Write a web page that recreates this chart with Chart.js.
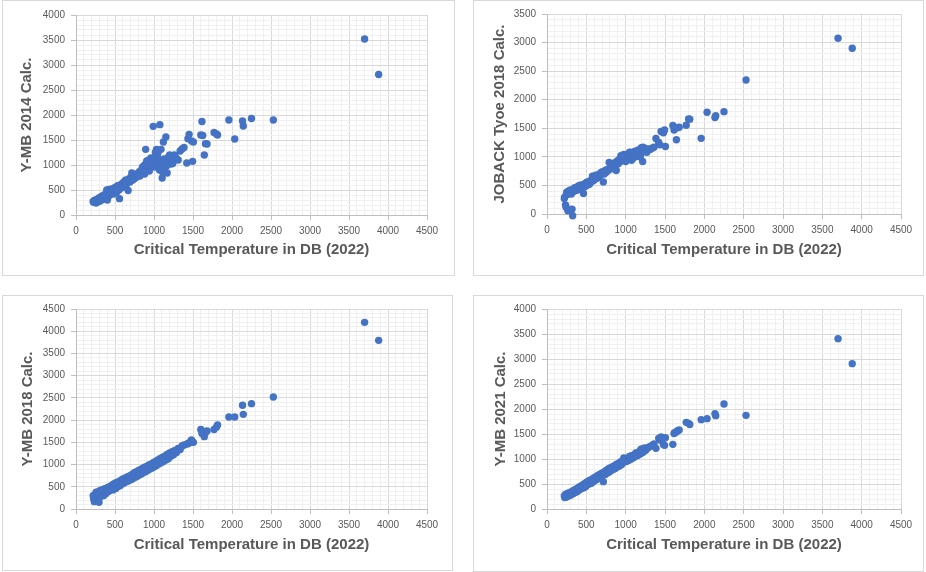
<!DOCTYPE html>
<html>
<head>
<meta charset="utf-8">
<script src="https://cdn.jsdelivr.net/npm/chart.js@4.4.1/dist/chart.umd.min.js"></script>
<style>
body { margin: 0; background: #fff; width: 926px; height: 572px; position: relative; overflow: hidden; }
.panel { position: absolute; border: 1px solid #d9d9d9; box-sizing: border-box; background: #fff; }
.panel canvas { position: absolute; left: 0; top: 0; }
</style>
</head>
<body>
<div class="panel" style="left:2px;top:0px;width:453px;height:276px"><canvas id="c1" width="451" height="274"></canvas></div>
<div class="panel" style="left:473px;top:0px;width:451px;height:276px"><canvas id="c2" width="449" height="274"></canvas></div>
<div class="panel" style="left:2px;top:295px;width:451px;height:276px"><canvas id="c3" width="449" height="274"></canvas></div>
<div class="panel" style="left:473px;top:295px;width:451px;height:277px"><canvas id="c4" width="449" height="275"></canvas></div>

<script>
const xTitle = "Critical Temperature in DB (2022)";

const tempDB = [
  220, 226, 235, 243, 250, 258, 265, 272, 280, 288,
  295, 302, 310, 318, 326, 335, 343, 352, 360, 368,
  377, 385, 394, 402, 410, 419, 428, 436, 445, 455,
  464, 473, 482, 492, 501, 510, 520, 530, 540, 550,
  558, 568, 578, 588, 598, 608, 618, 628, 638, 648,
  658, 668, 680, 692, 704, 716, 728, 740, 752, 765,
  778, 790, 802, 815, 828, 840, 853, 866, 880, 893,
  906, 920, 934, 948, 962, 976, 990, 1004, 1018, 1032,
  1046, 1060, 1075, 1090, 1105, 1120, 1136, 1152, 1168, 1184,
  1200, 1216, 1232, 1250, 1268, 1288, 1310, 1335, 1360, 1385,
  1420, 1435, 1450, 1480, 1495, 1505, 1600, 1615, 1625, 1645,
  1660, 1680, 1770, 1800, 1815, 1960, 2035, 2135, 2145, 2250,
  1010, 1040, 1070, 1100, 1130, 1160, 1190, 1220, 880, 940,
  960, 1000, 1050, 1110, 1140, 1180, 1240, 1260, 820, 860,
  2530, 3700, 3880
];

const ymb2014 = [
  270, 255, 290, 260, 300, 240, 285, 310, 265, 330,
  300, 345, 280, 360, 320, 380, 310, 370, 395, 340,
  420, 380, 500, 300, 450, 510, 390, 470, 430, 520,
  460, 500, 420, 540, 480, 560, 450, 520, 590, 500,
  327, 580, 540, 620, 560, 650, 600, 680, 700, 620,
  690, 490, 720, 660, 760, 840, 700, 780, 730, 800,
  760, 830, 790, 870, 820, 900, 960, 850, 1000, 1313,
  1080, 920, 1100, 980, 1140, 1050, 1773, 960, 1250, 1313,
  1000, 1120, 1807, 1313, 740, 1460, 950, 1560, 840, 1100,
  1200, 1020, 1150, 1080, 1180, 1130, 1100, 1280, 1320, 1350,
  1040, 1527, 1613, 1480, 1073, 1460, 1600, 1870, 1590, 1200,
  1427, 1420, 1650, 1620, 1600, 1900, 1520, 1880, 1780, 1930,
  1050, 1180, 900, 1020, 1120, 980, 1060, 1100, 820, 880,
  1000, 1100, 1240, 860, 1050, 1150, 1030, 1200, 780, 900,
  1900, 3520, 2810
];

const joback2018 = [
  270, 300, 158, 120, 380, 340, 58, 400, 360, 410,
  390, 420, 350, 82, -30, 430, 400, 460, 410, 440,
  470, 420, 480, 450, 500, 440, 470, 510, 460, 500,
  360, 520, 480, 540, 500, 560, 510, 550, 520, 580,
  560, 600, 660, 580, 640, 610, 680, 620, 660, 640,
  690, 660, 720, 700, 740, 560, 700, 760, 730, 780,
  760, 900, 800, 850, 820, 880, 840, 900, 760, 930,
  880, 960, 920, 1000, 960, 1040, 990, 1020, 980, 1050,
  1000, 1060, 940, 1080, 1020, 1100, 1050, 1010, 1090, 1060,
  1160, 920, 1100, 1120, 1080, 1140, 1130, 1150, 1170, 1320,
  1250, 1210, 1445, 1423, 1470, 1180, 1550, 1470, 1505, 1300,
  1510, 1520, 1552, 1663, 1660, 1324, 1780, 1690, 1720, 1791,
  960, 1010, 1050, 980, 1060, 1120, 1030, 1170, 860, 1020,
  1010, 920, 1080, 1040, 1100, 1000, 1150, 1100, 790, 820,
  2345, 3075, 2900
];

const ymb2018 = [
  300, 230, 165, 330, 260, 380, 220, 340, 250, 390,
  150, 300, 420, 280, 400, 330, 440, 300, 430, 360,
  460, 350, 470, 390, 480, 400, 500, 420, 510, 440,
  540, 430, 560, 470, 580, 460, 590, 500, 610, 520,
  620, 530, 650, 560, 670, 580, 690, 600, 700, 620,
  720, 630, 740, 650, 760, 670, 790, 700, 820, 720,
  840, 740, 870, 770, 890, 790, 910, 820, 940, 840,
  960, 870, 990, 900, 1010, 920, 1040, 950, 1070, 980,
  1100, 1010, 1130, 1040, 1160, 1070, 1190, 1100, 1230, 1130,
  1260, 1190, 1290, 1220, 1320, 1270, 1360, 1340, 1420, 1440,
  1460, 1470, 1490, 1552, 1508, 1500, 1790, 1700, 1750, 1628,
  1720, 1755, 1790, 1840, 1890, 2070, 2070, 2333, 2130, 2370,
  1040, 1020, 1100, 1080, 1160, 1140, 1220, 1190, 920, 920,
  1000, 1040, 1030, 1130, 1120, 1210, 1230, 1300, 860, 860,
  2520, 4200, 3795
];

const ymb2021 = [
  260, 230, 290, 240, 300, 250, 310, 260, 320, 280,
  330, 280, 340, 300, 360, 310, 370, 330, 390, 340,
  400, 350, 420, 380, 440, 390, 450, 410, 470, 420,
  490, 430, 510, 450, 530, 480, 550, 500, 570, 510,
  580, 520, 600, 550, 620, 570, 640, 590, 660, 610,
  680, 620, 700, 650, 720, 547, 740, 690, 770, 720,
  800, 740, 820, 770, 840, 790, 860, 810, 890, 840,
  910, 860, 940, 890, 960, 1020, 990, 950, 1010, 970,
  1040, 990, 1060, 1020, 1080, 1050, 1110, 1070, 1140, 1100,
  1200, 1130, 1190, 1170, 1210, 1230, 1250, 1270, 1300, 1213,
  1413, 1380, 1440, 1290, 1273, 1427, 1293, 1510, 1530, 1540,
  1567, 1580, 1733, 1713, 1690, 1787, 1807, 1907, 1867, 2100,
  1010, 980, 1060, 1030, 1120, 1090, 1180, 1150, 880, 890,
  960, 950, 1050, 1060, 1110, 1110, 1220, 1190, 820, 820,
  1873, 3407, 2907
];

const panels = [
  { id: "c1", yLabel: "Y-MB 2014 Calc.", values: ymb2014, yMax: 4000, top: 14, right: 27, yTitlePad: 15, xHeight: 60, xTitlePad: 16 },
  { id: "c2", yLabel: "JOBACK Tyoe 2018 Calc.", values: joback2018, yMax: 3500, top: 13, right: 22, yTitlePad: 17, xHeight: 61, xTitlePad: 16 },
  { id: "c3", yLabel: "Y-MB 2018 Calc.", values: ymb2018, yMax: 4500, top: 13, right: 25, yTitlePad: 16, xHeight: 61, xTitlePad: 16 },
  { id: "c4", yLabel: "Y-MB 2021 Calc.", values: ymb2021, yMax: 4000, top: 13, right: 22, yTitlePad: 18, xHeight: 62, xTitlePad: 17 }
];

const tickFont = { family: "Liberation Sans", size: 10 };
const titleFont = { family: "Liberation Sans", size: 15, weight: "bold" };
const textGray = "#595959";

function gridColor(ctx) {
  return ctx.tick && ctx.tick.value % 500 === 0 ? "#d9d9d9" : "#f0f0f0";
}
function tickMarkColor(ctx) {
  return ctx.tick && ctx.tick.value % 500 === 0 ? "#bfbfbf" : "rgba(0,0,0,0)";
}
function majorLabel(v) {
  return v % 500 === 0 ? v : "";
}

function makeChart(p) {
  const points = tempDB.map((x, i) => ({ x: x, y: p.values[i] }));
  new Chart(document.getElementById(p.id), {
    type: "scatter",
    data: {
      datasets: [{
        data: points,
        backgroundColor: "#4472C4",
        borderWidth: 0,
        pointRadius: 3.7,
        pointHoverRadius: 3.7,
        clip: false
      }]
    },
    options: {
      responsive: false,
      animation: false,
      events: [],
      layout: { padding: { left: 0, top: p.top, right: p.right, bottom: 0 } },
      plugins: { legend: { display: false }, tooltip: { enabled: false } },
      scales: {
        x: {
          type: "linear",
          min: 0,
          max: 4500,
          afterFit: s => { s.height = p.xHeight; },
          ticks: { stepSize: 100, autoSkip: false, maxRotation: 0, maxTicksLimit: 100, padding: 5, color: textGray, font: tickFont, callback: majorLabel },
          grid: { color: gridColor, tickColor: tickMarkColor, tickLength: 5 },
          border: { color: "#bfbfbf" },
          title: { display: true, text: xTitle, color: textGray, font: titleFont, padding: { top: 0, bottom: p.xTitlePad } }
        },
        y: {
          type: "linear",
          min: 0,
          max: p.yMax,
          afterFit: s => { s.width = 73; },
          ticks: { stepSize: 100, autoSkip: false, maxTicksLimit: 100, padding: 6, color: textGray, font: tickFont, callback: majorLabel },
          grid: { color: gridColor, tickColor: tickMarkColor, tickLength: 5 },
          border: { color: "#bfbfbf" },
          title: { display: true, text: p.yLabel, color: textGray, font: titleFont, padding: { top: p.yTitlePad, bottom: 0 } }
        }
      }
    }
  });
}

panels.forEach(makeChart);
</script>
</body>
</html>
